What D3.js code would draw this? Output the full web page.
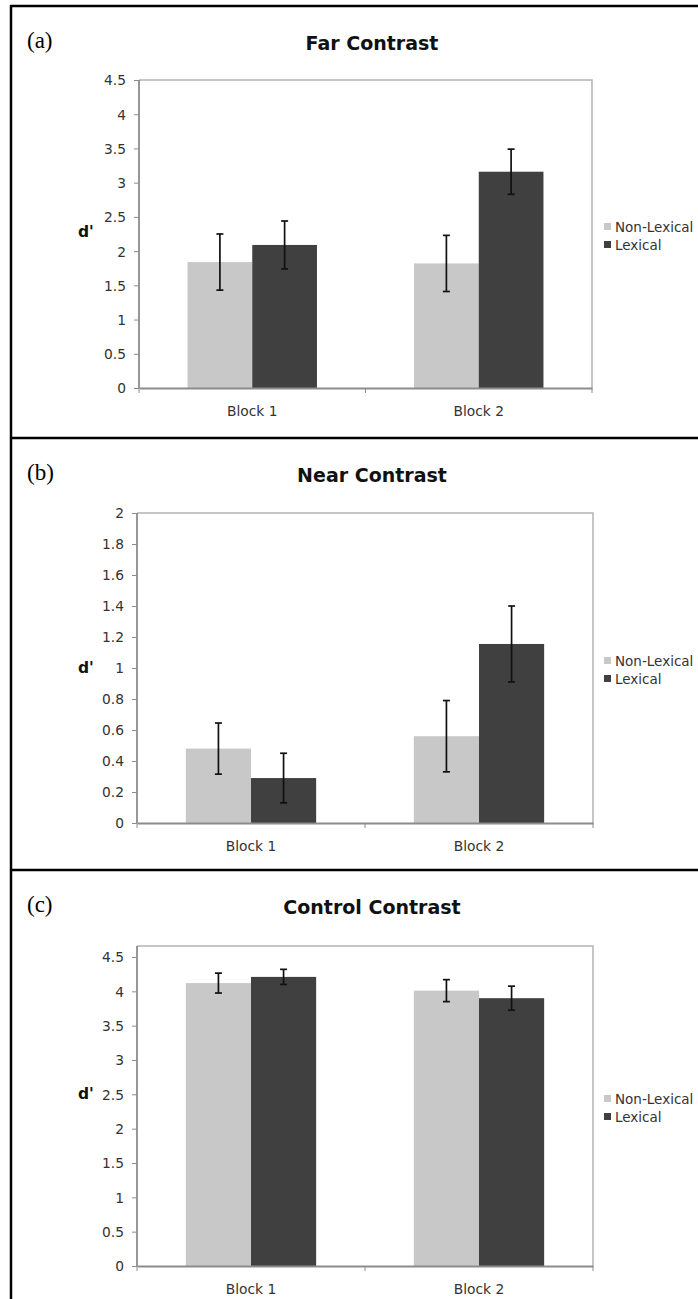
<!DOCTYPE html>
<head>
  <meta charset="utf-8">
  <style>
    body { margin: 0; background: #fff; }
    svg { display: block; }
    text { font-family: "DejaVu Sans", Verdana, sans-serif; fill: #333; }
    .tick text { font-size: 13.8px; fill: #333; }
    .title { font-weight: bold; font-size: 19px; fill: #111; }
    .tag { font-family: "Liberation Serif", "Times New Roman", serif; font-size: 23px; fill: #000; }
    .ylab { font-weight: bold; font-size: 15.5px; fill: #111; }
    .legend text { font-size: 13.5px; }
  </style>
</head>
<body>
  <svg width="698" height="1299"></svg>
  <script src="https://d3js.org/d3.v7.min.js"></script>
  <script>

  // data
  var categories = ["Block 1", "Block 2"];
  var series = ["Non-Lexical", "Lexical"];

  var farNonLexical = [1.84, 1.82],   farNonLexicalErr = [0.41, 0.41];
  var farLexical = [2.09, 3.16],      farLexicalErr = [0.35, 0.33];

  var nearNonLexical = [0.48, 0.56],  nearNonLexicalErr = [0.165, 0.23];
  var nearLexical = [0.29, 1.155],    nearLexicalErr = [0.16, 0.245];

  var controlNonLexical = [4.12, 4.01], controlNonLexicalErr = [0.145, 0.16];
  var controlLexical = [4.21, 3.90],    controlLexicalErr = [0.11, 0.175];

  var farTicks = [0, 0.5, 1, 1.5, 2, 2.5, 3, 3.5, 4, 4.5];
  var nearTicks = [0, 0.2, 0.4, 0.6, 0.8, 1, 1.2, 1.4, 1.6, 1.8, 2];
  var controlTicks = [0, 0.5, 1, 1.5, 2, 2.5, 3, 3.5, 4, 4.5];

  var colors = ["#c8c8c8", "#404040"];

  var svg = d3.select("svg");

  // black frame around the three panels
  var frame = svg.append("g").attr("stroke", "#000").attr("stroke-width", 2.5);
  frame.append("line").attr("x1", 11).attr("x2", 11).attr("y1", 5).attr("y2", 1299);
  [6, 438, 870].forEach(function(y) {
    frame.append("line").attr("x1", 10).attr("x2", 698).attr("y1", y).attr("y2", y);
  });

  var panels = [
    { tag: "(a)", title: "Far Contrast", top: 6, plot: [80, 388, 139, 592], yMax: 4.5, ticks: farTicks, labDy: -2,
      values: [farNonLexical, farLexical], errs: [farNonLexicalErr, farLexicalErr] },
    { tag: "(b)", title: "Near Contrast", top: 438, plot: [513, 823, 137, 593], yMax: 2, ticks: nearTicks, labDy: 0,
      values: [nearNonLexical, nearLexical], errs: [nearNonLexicalErr, nearLexicalErr] },
    { tag: "(c)", title: "Control Contrast", top: 870, plot: [946, 1266, 137, 593], yMax: 4.66, ticks: controlTicks, labDy: -12,
      values: [controlNonLexical, controlLexical], errs: [controlNonLexicalErr, controlLexicalErr] }
  ];

  panels.forEach(function(p) {
    var top = p.plot[0], bottom = p.plot[1], left = p.plot[2], right = p.plot[3];
    var g = svg.append("g");

    g.append("text").attr("class", "tag").attr("x", 27).attr("y", p.top + 42).text(p.tag);
    g.append("text").attr("class", "title").attr("x", 372).attr("y", p.top + 44)
      .attr("text-anchor", "middle").text(p.title);

    var y = d3.scaleLinear().domain([0, p.yMax]).range([bottom, top]);
    var x0 = d3.scaleBand().domain(categories).range([left, right])
      .paddingInner(1.5 / 3.5).paddingOuter(0.75 / 3.5);
    var x1 = d3.scaleBand().domain(series).range([0, x0.bandwidth()]);

    // plot area border (top and right)
    g.append("path")
      .attr("d", "M" + left + "," + top + "H" + right + "V" + bottom)
      .attr("fill", "none").attr("stroke", "#b4b4b4").attr("stroke-width", 1.5);

    var rows = [];
    categories.forEach(function(c, i) {
      series.forEach(function(s, j) {
        rows.push({ cat: c, ser: s, j: j, v: p.values[j][i], e: p.errs[j][i] });
      });
    });

    g.selectAll(".bar").data(rows).enter().append("rect")
      .attr("class", "bar")
      .attr("x", function(d) { return x0(d.cat) + x1(d.ser); })
      .attr("width", x1.bandwidth())
      .attr("y", function(d) { return y(d.v); })
      .attr("height", function(d) { return y(0) - y(d.v); })
      .attr("fill", function(d) { return colors[d.j]; });

    // error bars
    var eb = g.selectAll(".err").data(rows).enter().append("g")
      .attr("class", "err").attr("stroke", "#111").attr("stroke-width", 1.7);
    eb.append("line")
      .attr("x1", function(d) { return x0(d.cat) + x1(d.ser) + x1.bandwidth() / 2; })
      .attr("x2", function(d) { return x0(d.cat) + x1(d.ser) + x1.bandwidth() / 2; })
      .attr("y1", function(d) { return y(d.v + d.e); })
      .attr("y2", function(d) { return y(d.v - d.e); });
    [1, -1].forEach(function(sign) {
      eb.append("line")
        .attr("x1", function(d) { return x0(d.cat) + x1(d.ser) + x1.bandwidth() / 2 - 3.5; })
        .attr("x2", function(d) { return x0(d.cat) + x1(d.ser) + x1.bandwidth() / 2 + 3.5; })
        .attr("y1", function(d) { return y(d.v + sign * d.e); })
        .attr("y2", function(d) { return y(d.v + sign * d.e); });
    });

    // y axis
    var ya = g.append("g").attr("transform", "translate(" + left + ",0)")
      .call(d3.axisLeft(y).tickValues(p.ticks).tickSize(5).tickPadding(8)
        .tickFormat(function(d) { return String(d); }));
    ya.select(".domain").attr("stroke", "#8c8c8c").attr("stroke-width", 1.8)
      .attr("d", "M0," + top + "V" + bottom);
    ya.selectAll(".tick line").attr("stroke", "#8c8c8c");
    ya.selectAll(".tick text").attr("dy", "0.36em");

    // x axis: labels under categories, ticks on the category boundaries
    var xa = g.append("g").attr("transform", "translate(0," + bottom + ")")
      .call(d3.axisBottom(x0).tickSize(0).tickPadding(18));
    xa.select(".domain").attr("stroke", "#8c8c8c").attr("stroke-width", 1.8);
    var bounds = d3.range(categories.length + 1).map(function(i) { return left + i * x0.step(); });
    xa.selectAll(".bound").data(bounds).enter().append("line")
      .attr("class", "bound")
      .attr("x1", function(d) { return d; }).attr("x2", function(d) { return d; })
      .attr("y1", 0).attr("y2", 5).attr("stroke", "#8c8c8c");

    var mid = (top + bottom) / 2;
    g.append("text").attr("class", "ylab").attr("x", 78).attr("y", mid + p.labDy + 5).text("d'");

    var lg = g.append("g").attr("class", "legend")
      .attr("transform", "translate(604," + (mid - 7) + ")");
    var item = lg.selectAll("g").data(series).enter().append("g")
      .attr("transform", function(d, i) { return "translate(0," + i * 18 + ")"; });
    item.append("rect").attr("y", -4).attr("width", 7).attr("height", 7)
      .attr("fill", function(d, i) { return colors[i]; });
    item.append("text").attr("x", 11).attr("y", 0).attr("dy", "0.36em").text(function(d) { return d; });
  });

  </script>
</body>
</html>
